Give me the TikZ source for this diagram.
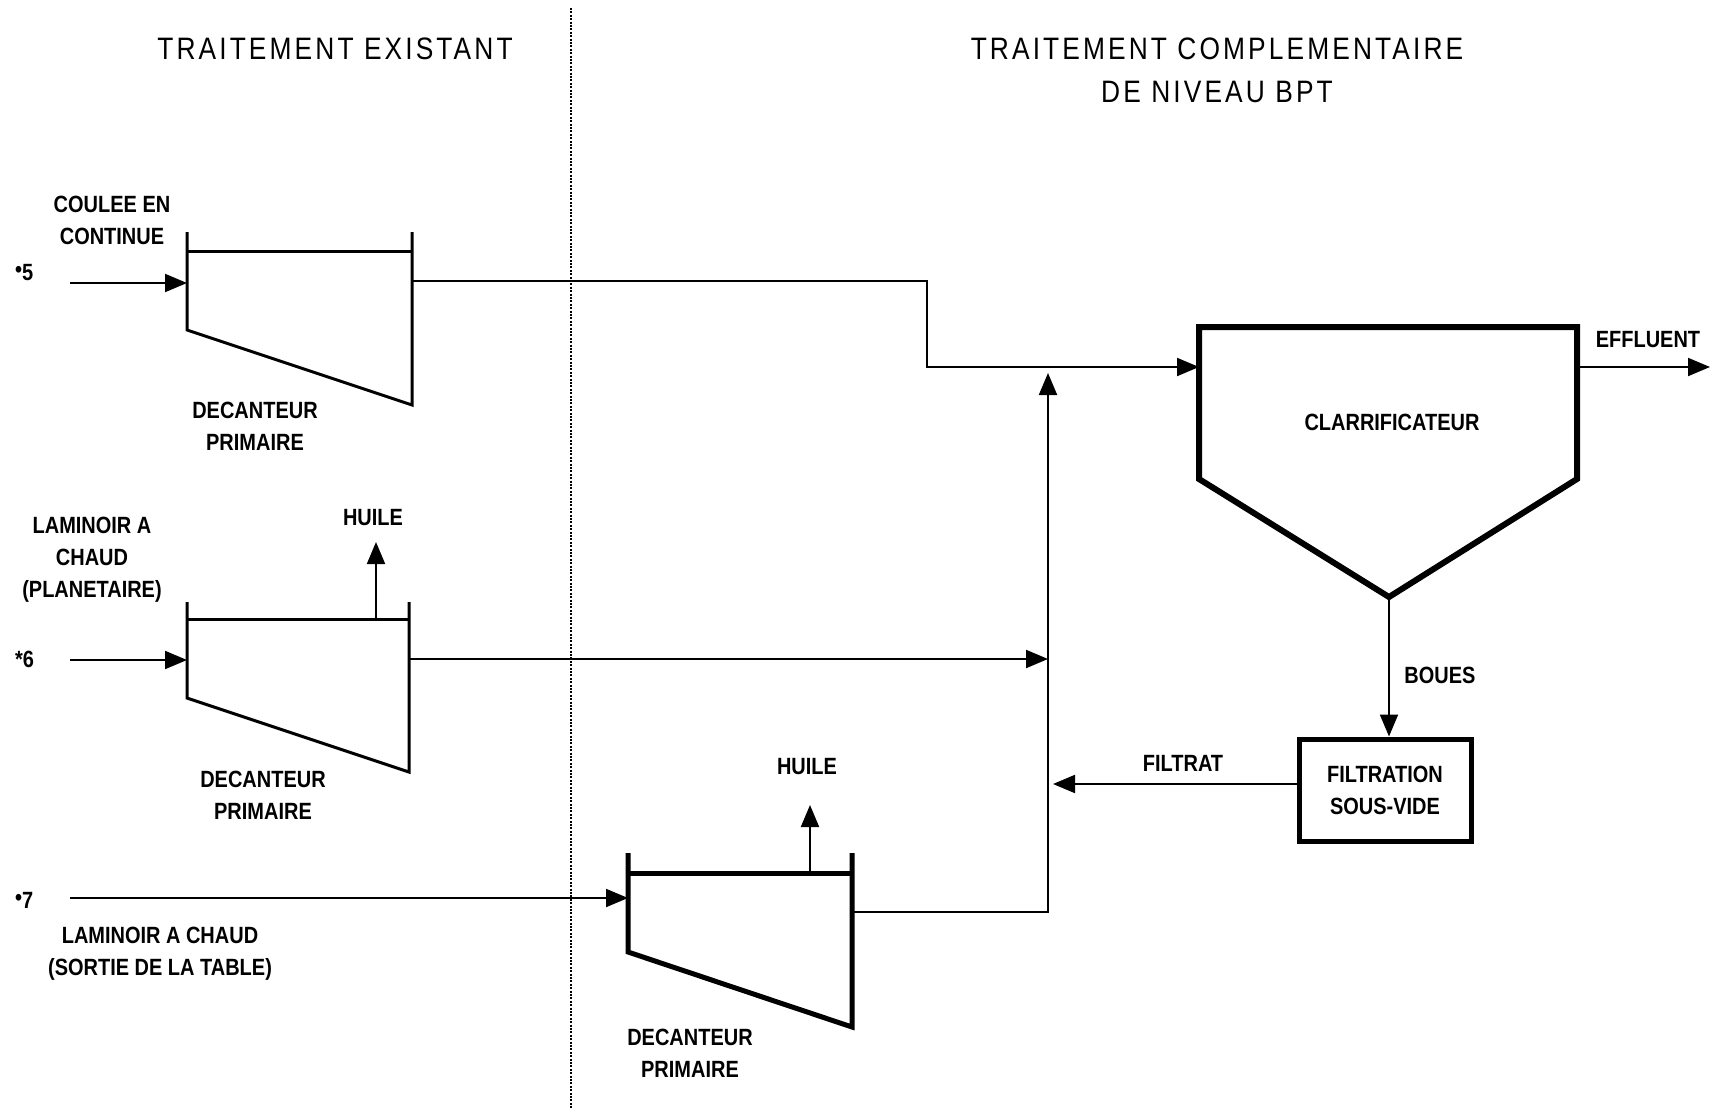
\documentclass[tikz,border=0pt]{standalone}
\usepackage{fontspec}
\setmainfont[FakeStretch=0.85]{Liberation Sans}
\newfontfamily\headfont[FakeStretch=0.85,LetterSpace=10]{Liberation Sans}
\usetikzlibrary{arrows.meta}
\begin{document}
\begin{tikzpicture}[x=1pt,y=-1pt,
  lbl/.style={font=\bfseries\fontsize{23.5}{32}\selectfont, inner sep=0pt, align=center},
  head/.style={font=\headfont\fontsize{31}{43}\selectfont, inner sep=0pt, align=center},
  pipe/.style={line width=2pt},
  flow/.style={line width=2pt, -{Triangle[length=22pt,width=18pt]}},
  tank/.style={line width=3pt, line join=miter},
  thicktank/.style={line width=5pt, line join=miter}]
\useasboundingbox (0,0) rectangle (1717,1108);

% divider
\draw[line width=2.6pt, dash pattern=on 2pt off 1.4pt] (571,8) -- (571,1108);

% headings
\node[head] (h1) at (335,49) {TRAITEMENT EXISTANT};
\node[head] (h2) at (1217,70) {TRAITEMENT COMPLEMENTAIRE\\DE NIVEAU BPT};

% decanteur 1
\draw[tank] (187,232) -- (187,330) -- (412,405) -- (412,232);
\draw[tank] (187,251) -- (412,251);
\coordinate (d1in) at (187,283);
\coordinate (d1out) at (412,281);
\node[lbl] (d1lbl) at (255,426) {DECANTEUR\\PRIMAIRE};
\node[lbl] (s5lbl) at (112,220) {COULEE EN\\CONTINUE};
\node[lbl, anchor=west] (s5) at (15,273) {\raisebox{3pt}{•}5};
\coordinate (s5start) at (70,283);

% decanteur 2
\draw[tank] (187,602) -- (187,698) -- (409,772) -- (409,602);
\draw[tank] (187,619) -- (409,619);
\coordinate (d2in) at (187,660);
\coordinate (d2out) at (409,659);
\coordinate (d2oil) at (376,619);
\coordinate (d2oilend) at (376,542);
\node[lbl] (huile1) at (373,518) {HUILE};
\node[lbl] (d2lbl) at (263,795) {DECANTEUR\\PRIMAIRE};
\node[lbl] (s6lbl) at (92,560) {LAMINOIR A\\CHAUD\\(PLANETAIRE)};
\node[lbl, anchor=west] (s6) at (15,659) {*6};
\coordinate (s6start) at (70,660);

% decanteur 3
\draw[thicktank] (628,853) -- (628,952) -- (852,1027) -- (852,853);
\draw[thicktank] (628,873) -- (852,873);
\coordinate (d3in) at (628,898);
\coordinate (d3out) at (852,912);
\coordinate (d3oil) at (810,873);
\coordinate (d3oilend) at (810,805);
\node[lbl] (huile2) at (807,767) {HUILE};
\node[lbl] (d3lbl) at (690,1053) {DECANTEUR\\PRIMAIRE};
\node[lbl, anchor=west] (s7) at (15,900) {\raisebox{3pt}{•}7};
\node[lbl] (s7lbl) at (160,954) {LAMINOIR A CHAUD\\(SORTIE DE LA TABLE)};
\coordinate (s7start) at (70,898);

% clarificateur
\draw[line width=6pt, line join=miter] (1199,327) -- (1577,327) -- (1577,479) -- (1389,597) -- (1199,479) -- cycle;
\node[lbl] (clar) at (1392,422) {CLARRIFICATEUR};
\coordinate (clin) at (1199,367);
\coordinate (clout) at (1577,367);
\coordinate (clbot) at (1389,597);
\coordinate (effend) at (1710,367);
\node[lbl] (eff) at (1648,340) {EFFLUENT};

% filtration
\node[draw, line width=5pt, minimum width=172pt, minimum height=102pt, lbl] (filt) at (1385,790) {FILTRATION\\SOUS-VIDE};
\node[lbl] (boues) at (1440,675) {BOUES};
\node[lbl] (filtrat) at (1183,763) {FILTRAT};

% collector
\coordinate (c1) at (927,281);
\coordinate (c2) at (927,367);
\coordinate (col6) at (1048,659);
\coordinate (col7) at (1048,912);
\coordinate (coltop) at (1048,373);
\coordinate (filtend) at (1053,784);

% connectors
\draw[flow] (s5start) -- (d1in);
\draw[flow] (s6start) -- (d2in);
\draw[flow] (s7start) -- (d3in);
\draw[flow] (d2oil) -- (d2oilend);
\draw[flow] (d3oil) -- (d3oilend);
\draw[flow] (d1out) -- (c1) -- (c2) -- (clin);
\draw[flow] (d2out) -- (col6);
\draw[flow] (d3out) -- (col7) -- (coltop);
\draw[flow] (clout) -- (effend);
\draw[flow] (clbot) -- (clbot |- filt.north);
\draw[flow] (filt.west |- filtend) -- (filtend);
\end{tikzpicture}
\end{document}
